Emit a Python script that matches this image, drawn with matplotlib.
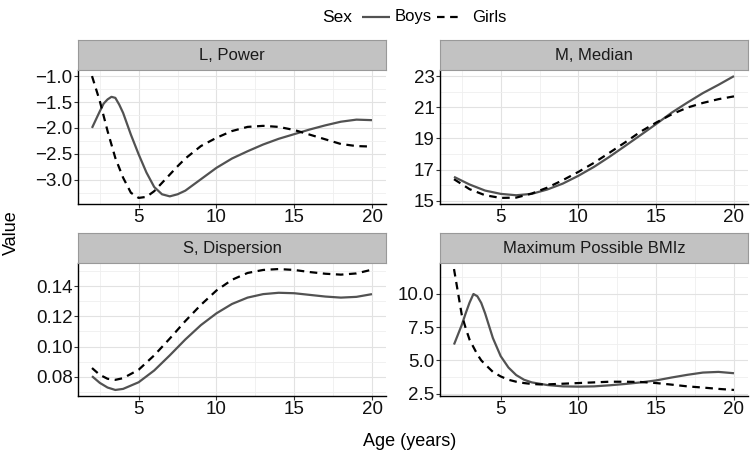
import matplotlib
matplotlib.use("Agg")
import matplotlib.pyplot as plt
from matplotlib.ticker import MultipleLocator, AutoMinorLocator, FuncFormatter
from matplotlib.lines import Line2D

plt.rcParams['font.family'] = ['Liberation Sans', 'DejaVu Sans']

# ---------------- data ----------------
age_a = [2, 2.5, 2.75, 3, 3.25, 3.5, 3.75, 4, 4.5, 5, 5.5, 6, 6.5, 7, 7.5, 8,
         9, 10, 11, 12, 13, 14, 15, 16, 17, 18, 19, 20]
age_b = [2, 3, 4, 5, 6, 7, 8, 9, 10, 11, 12, 13, 14, 15, 16, 17, 18, 19, 20]
age_s = [2, 2.5, 3, 3.5, 4, 5, 6, 7, 8, 9, 10, 11, 12, 13, 14, 15, 16, 17, 18, 19, 20]

L_boys = [-2.00, -1.68, -1.53, -1.45, -1.40, -1.42, -1.55, -1.71, -2.13, -2.51, -2.86, -3.14, -3.28, -3.32,
          -3.28, -3.21, -2.99, -2.77, -2.59, -2.45, -2.32, -2.21, -2.12, -2.03, -1.95, -1.88, -1.84, -1.85]
L_girls = [-1.00, -1.48, -1.77, -2.06, -2.32, -2.58, -2.77, -2.96, -3.25, -3.35, -3.33, -3.22, -3.06, -2.90,
           -2.74, -2.59, -2.35, -2.19, -2.06, -1.98, -1.96, -1.98, -2.04, -2.13, -2.22, -2.31, -2.35, -2.36]

M_boys = [16.54, 16.05, 15.66, 15.45, 15.36, 15.45, 15.73, 16.11, 16.61, 17.18,
          17.83, 18.52, 19.22, 19.93, 20.66, 21.30, 21.91, 22.44, 23.00]
M_girls = [16.39, 15.75, 15.36, 15.19, 15.21, 15.47, 15.85, 16.33, 16.86, 17.44,
           18.09, 18.75, 19.44, 20.02, 20.55, 20.98, 21.28, 21.52, 21.70]

S_boys = [0.0804, 0.0760, 0.0729, 0.0713, 0.0720, 0.0764, 0.0842, 0.0942, 0.1047, 0.1142, 0.1220,
          0.1282, 0.1324, 0.1347, 0.1356, 0.1353, 0.1342, 0.1331, 0.1324, 0.1329, 0.1347]
S_girls = [0.0858, 0.0813, 0.0787, 0.0780, 0.0791, 0.0847, 0.0942, 0.1053, 0.1169, 0.1276, 0.1371,
           0.1442, 0.1487, 0.1507, 0.1513, 0.1507, 0.1493, 0.1482, 0.1476, 0.1484, 0.1509]

B_boys = [6.19, 7.67, 8.54, 9.35, 10.0, 9.83, 9.33, 8.54, 6.68, 5.32, 4.46, 3.89, 3.54, 3.34, 3.24, 3.14,
          3.04, 3.02, 3.04, 3.12, 3.22, 3.34, 3.49, 3.71, 3.91, 4.08, 4.13, 4.03]
B_girls = [11.88, 8.42, 7.43, 6.56, 6.0, 5.45, 5.0, 4.70, 4.13, 3.79, 3.54, 3.39, 3.29, 3.22, 3.19, 3.19,
           3.24, 3.29, 3.34, 3.39, 3.39, 3.37, 3.29, 3.17, 3.04, 2.95, 2.85, 2.77]

panel_titles = ["L, Power", "M, Median", "S, Dispersion", "Maximum Possible BMIz"]
x_ticks = [5, 10, 15, 20]
y_tick_step = [0.5, 2, 0.02, 2.5]
y_tick_offset = [0, 1, 0, 0]
y_formats = ['%.1f', '%d', '%.2f', '%.1f']
legend_title = "Sex"
sex_labels = ["Boys", "Girls"]

panels = [
    (age_a, L_boys, age_a, L_girls),
    (age_b, M_boys, age_b, M_girls),
    (age_s, S_boys, age_s, S_girls),
    (age_a, B_boys, age_a, B_girls),
]

# ---------------- layout ----------------
W, H = 750, 455
fig = plt.figure(figsize=(W / 100, H / 100), dpi=100)


def rect(l, t, r, b):
    return [l / W, 1 - b / H, (r - l) / W, (b - t) / H]


panel_px = [(78, 70, 386, 204), (440, 70, 748, 204),
            (78, 263, 386, 396), (440, 263, 748, 396)]
strip_h = 30

boys_style = dict(color='#525252', lw=1.6, solid_capstyle='butt')
girls_style = dict(color='#000000', lw=1.6, linestyle=(0, (3.4, 2.5)))

for i, (l, t, r, b) in enumerate(panel_px):
    ax = fig.add_axes(rect(l, t, r, b))
    xb, yb, xg, yg = panels[i]
    ax.plot(xb, yb, **boys_style)
    ax.plot(xg, yg, **girls_style)
    ax.set_xlim(1.1, 20.9)
    ax.margins(y=0.05)
    ax.set_axisbelow(True)
    ax.set_xticks(x_ticks)
    ax.xaxis.set_minor_locator(AutoMinorLocator(2))
    ax.yaxis.set_major_locator(MultipleLocator(y_tick_step[i], offset=y_tick_offset[i]))
    ax.yaxis.set_minor_locator(AutoMinorLocator(2))
    ax.yaxis.set_major_formatter(
        FuncFormatter(lambda v, p, f=y_formats[i]: (f % v).replace('-', '\u2212')))
    ax.grid(which='major', color='#e2e2e2', lw=0.8)
    ax.grid(which='minor', color='#efefef', lw=0.6)
    for s in ['top', 'right']:
        ax.spines[s].set_visible(False)
    for s in ['left', 'bottom']:
        ax.spines[s].set_color('black')
        ax.spines[s].set_linewidth(1.0)
    ax.tick_params(which='major', direction='out', length=2.6, width=0.8,
                   color='#333333', labelsize=13.5, labelcolor='#111111', pad=1.2)
    ax.tick_params(which='minor', length=0)

    # strip
    sax = fig.add_axes(rect(l, t - strip_h, r, t))
    sax.set_facecolor('#c2c2c2')
    sax.set_xticks([])
    sax.set_yticks([])
    for s in sax.spines.values():
        s.set_color('#999999')
        s.set_linewidth(0.8)
    sax.text(0.5, 0.47, panel_titles[i], transform=sax.transAxes, ha='center', va='center',
             fontsize=12, color='#1a1a1a')

# axis labels
fig.text(11 / W, 1 - 233 / H, "Value", rotation=90, ha='center', va='center', fontsize=13)
fig.text(410 / W, 1 - 441 / H, "Age (years)", ha='center', va='center', fontsize=13)

# legend
ly = 1 - 17 / H
fig.text(322 / W, ly, legend_title, ha='left', va='center', fontsize=12.5)
fig.add_artist(Line2D([362 / W, 390 / W], [ly, ly], transform=fig.transFigure, **boys_style))
fig.text(395 / W, ly, sex_labels[0], ha='left', va='center', fontsize=12)
fig.add_artist(Line2D([437 / W, 463 / W], [ly, ly], transform=fig.transFigure, **girls_style))
fig.text(472 / W, ly, sex_labels[1], ha='left', va='center', fontsize=12)

fig.savefig("out.png", dpi=100)
